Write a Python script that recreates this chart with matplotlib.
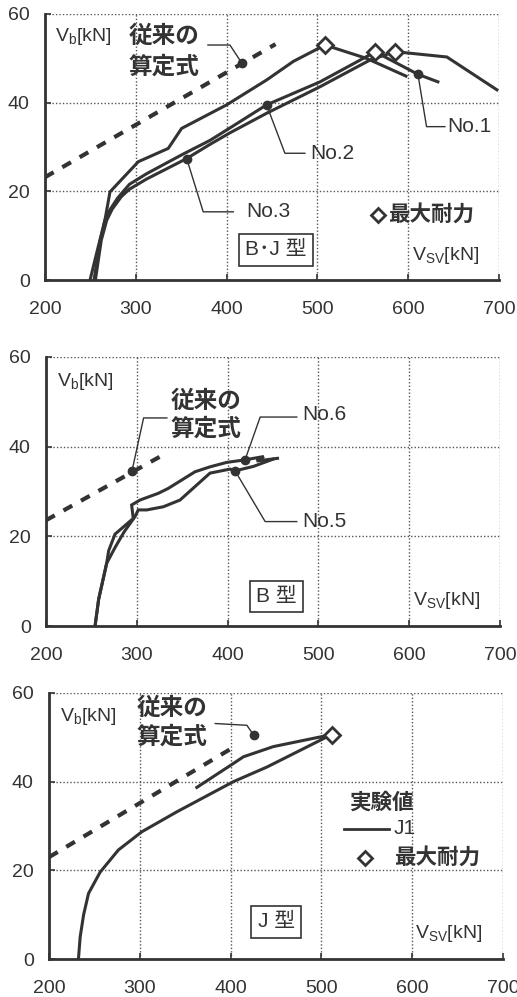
import matplotlib
matplotlib.use('Agg')
import matplotlib.pyplot as plt

plt.rcParams['font.family'] = ['Liberation Sans', 'Noto Sans CJK JP']
plt.rcParams['mathtext.fontset'] = 'custom'
plt.rcParams['mathtext.rm'] = 'Liberation Sans'

INK = '#333333'

# ---- panel 1 : B・J type (No.1 - No.3) ----
p1_a_vsv = [249.6, 258, 266, 271.6, 302.8, 335.8, 350.5, 400, 444, 473.5, 508.4, 554, 597.6]
p1_a_vb = [0, 7, 13.5, 19.9, 26.7, 29.7, 34.2, 39.5, 45.1, 49.3, 53.0, 50.0, 46.0]
p1_b_vsv = [254, 261, 266, 272, 280, 293, 312, 352, 381.7, 403.7, 444, 503, 557.9, 563.4, 610.8, 632.8]
p1_b_vb = [0, 9, 13.5, 16, 18.5, 21.6, 24.0, 28.4, 31.5, 34.3, 39.5, 44.7, 50.8, 51.5, 46.4, 44.7]
p1_c_vsv = [255.5, 262, 268, 274, 284, 293, 312, 356, 381.7, 403.7, 444, 503, 557.9, 585.5, 642.7, 697.8]
p1_c_vb = [0, 9, 13.5, 16, 18.8, 20.5, 22.8, 27.4, 30.6, 33.2, 37.6, 43.6, 49.6, 51.5, 50.3, 42.9]
p1_calc_vsv = [200, 454]
p1_calc_vb = [23.2, 53.2]
p1_max_vsv = [508.4, 563.4, 585.5]
p1_max_vb = [53.0, 51.5, 51.5]
p1_dot_vsv = [416.6, 610.8, 444.1, 356.1]
p1_dot_vb = [49.0, 46.4, 39.5, 27.4]

# ---- panel 2 : B type (No.5, No.6) ----
p2_no6_vsv = [254, 258, 266.8, 269, 276, 296.1, 294.3, 303.5, 323.7, 334.7, 364.1,
              380.6, 399.2, 417.3, 440, 432, 455]
p2_no6_vb = [0, 6, 14.0, 16.8, 20.5, 24.0, 27.0, 28.1, 29.6, 30.7, 34.4,
             35.5, 36.5, 37.0, 37.8, 36.8, 37.4]
p2_no5_vsv = [254, 258, 266.8, 276, 286, 298, 301.6, 311, 329.2, 347.6, 380.6,
              402.8, 408.1, 428.5, 450]
p2_no5_vb = [0, 6, 14.0, 17.5, 21.0, 24.4, 25.9, 25.9, 26.6, 28.1, 34.1,
             35.0, 34.6, 35.6, 37.2]
p2_calc_vsv = [200, 325.8]
p2_calc_vb = [23.6, 37.8]
p2_dot_vsv = [294.6, 419.3, 408.3]
p2_dot_vb = [34.5, 37.1, 34.6]

# ---- panel 3 : J type (J1) ----
p3_j1_vsv = [232.3, 234.2, 238, 243.4, 256.2, 276.3, 302.1, 340.7, 403, 440, 511,
             447, 414, 403, 362.7]
p3_j1_vb = [0, 5.0, 10, 14.8, 19.6, 24.6, 28.7, 33.2, 40.0, 43.3, 50.6,
            47.9, 45.6, 44.1, 38.7]
p3_calc_vsv = [200, 406.8]
p3_calc_vb = [23.0, 48.2]
p3_max_vsv = [512]
p3_max_vb = [50.6]
p3_dot_vsv = [425.2]
p3_dot_vb = [50.5]

x_ticks = [200, 300, 400, 500, 600, 700]
y_ticks = [0, 20, 40, 60]


def setup(ax):
    ax.set_xlim(200, 700)
    ax.set_ylim(0, 60)
    ax.set_xticks(x_ticks)
    ax.set_yticks(y_ticks)
    ax.grid(True, linestyle=(0, (1, 1.5)), color='#555555', linewidth=1.0)
    for s in ['top', 'right']:
        ax.spines[s].set_visible(False)
    for s in ['left', 'bottom']:
        ax.spines[s].set_linewidth(2.0)
        ax.spines[s].set_color(INK)
    ax.tick_params(axis='x', direction='in', length=4, width=1.2, color=INK,
                   labelsize=14, labelcolor=INK, pad=15)
    ax.tick_params(axis='y', direction='in', length=4, width=1.2, color=INK,
                   labelsize=14, labelcolor=INK, pad=11)
    ax.set_axisbelow(True)


def curve(ax, x, y):
    ax.plot(x, y, color=INK, lw=2.2, solid_joinstyle='miter', zorder=3)


def calc_line(ax, x, y):
    ax.plot(x, y, color=INK, lw=3.0, dashes=(2.4, 2.4), zorder=3)


def dots(ax, x, y):
    ax.plot(x, y, 'o', color=INK, ms=6, zorder=5, clip_on=False)


def maxpts(ax, x, y):
    ax.plot(x, y, 'D', mfc='white', mec=INK, mew=2, ms=8, zorder=6, clip_on=False)


def leader(ax, xs, ys):
    ax.plot(xs, ys, color=INK, lw=1.0, zorder=4)


def common_text(ax, vb_xy, calc_xy, box_xy, box_label, vsv_xy):
    ax.text(*vb_xy, r'V$_\mathrm{b}$[kN]', fontsize=14, color=INK, ha='left', va='center')
    ax.text(calc_xy[0], calc_xy[1], '従来の', fontsize=17, fontweight='bold',
            color=INK, ha='left', va='center')
    ax.text(calc_xy[0], calc_xy[2], '算定式', fontsize=17, fontweight='bold',
            color=INK, ha='left', va='center')
    ax.text(*box_xy, box_label, fontsize=15, color=INK, ha='center', va='center',
            bbox=dict(boxstyle='square,pad=0.3', fc='white', ec=INK, lw=1.2), zorder=7)
    ax.text(*vsv_xy, r'V$_\mathrm{SV}$[kN]', fontsize=14, color=INK, ha='left', va='center')


fig = plt.figure(figsize=(5.17, 9.97), dpi=100)

# panel 1
ax1 = fig.add_axes([0.087, 0.719, 0.878, 0.267])
setup(ax1)
calc_line(ax1, p1_calc_vsv, p1_calc_vb)
curve(ax1, p1_a_vsv, p1_a_vb)
curve(ax1, p1_b_vsv, p1_b_vb)
curve(ax1, p1_c_vsv, p1_c_vb)
maxpts(ax1, p1_max_vsv, p1_max_vb)
dots(ax1, p1_dot_vsv, p1_dot_vb)
leader(ax1, [379.5, 403.7, 416.6], [53.0, 53.0, 49.0])
leader(ax1, [610.8, 620.3, 640.5], [46.4, 34.6, 34.6])
leader(ax1, [444.1, 464.3, 486.3], [39.5, 28.6, 28.6])
leader(ax1, [356.1, 374.3, 407.4], [27.4, 15.4, 15.4])
ax1.text(643, 34.6, 'No.1', fontsize=15, color=INK, va='center')
ax1.text(491.8, 28.6, 'No.2', fontsize=15, color=INK, va='center')
ax1.text(422.1, 15.4, 'No.3', fontsize=15, color=INK, va='center')
ax1.plot([567.1], [14.7], 'D', mfc='white', mec=INK, mew=2, ms=7)
ax1.text(578, 14.7, '最大耐力', fontsize=15.5, fontweight='bold', color=INK, va='center')
common_text(ax1, (211, 54.9), (291.8, 54.9, 48.1), (454.4, 6.8), 'B･J 型', (603.8, 5.6))

# panel 2
ax2 = fig.add_axes([0.089, 0.372, 0.878, 0.270])
setup(ax2)
calc_line(ax2, p2_calc_vsv, p2_calc_vb)
curve(ax2, p2_no6_vsv, p2_no6_vb)
curve(ax2, p2_no5_vsv, p2_no5_vb)
dots(ax2, p2_dot_vsv, p2_dot_vb)
leader(ax2, [294.6, 307.5, 333.1], [34.5, 46.4, 46.4])
leader(ax2, [419.3, 435.9, 476.2], [37.1, 46.6, 46.6])
leader(ax2, [408.3, 441.4, 476.2], [34.6, 23.3, 23.3])
ax2.text(481.7, 47.1, 'No.6', fontsize=15, color=INK, va='center')
ax2.text(481.7, 23.3, 'No.5', fontsize=15, color=INK, va='center')
common_text(ax2, (212.1, 54.6), (336.8, 50.1, 43.8), (453.4, 6.6), 'B 型', (604.6, 5.8))

# panel 3
ax3 = fig.add_axes([0.095, 0.038, 0.878, 0.267])
setup(ax3)
calc_line(ax3, p3_calc_vsv, p3_calc_vb)
curve(ax3, p3_j1_vsv, p3_j1_vb)
maxpts(ax3, p3_max_vsv, p3_max_vb)
dots(ax3, p3_dot_vsv, p3_dot_vb)
leader(ax3, [383.0, 417.9, 425.2], [53.1, 52.7, 50.5])
ax3.text(529.9, 35.1, '実験値', fontsize=15.5, fontweight='bold', color=INK, va='center')
ax3.plot([524.4, 574.0], [29.4, 29.4], color=INK, lw=2.0)
ax3.text(579.5, 29.4, 'J1', fontsize=15, color=INK, va='center')
ax3.plot([548.3], [22.7], 'D', mfc='white', mec=INK, mew=2, ms=7)
ax3.text(579.5, 22.7, '最大耐力', fontsize=15.5, fontweight='bold', color=INK, va='center')
common_text(ax3, (212.1, 54.6), (296.6, 56.5, 50.1), (450.2, 8.4), 'J 型', (603.4, 5.8))

fig.savefig('out.png', dpi=100)
